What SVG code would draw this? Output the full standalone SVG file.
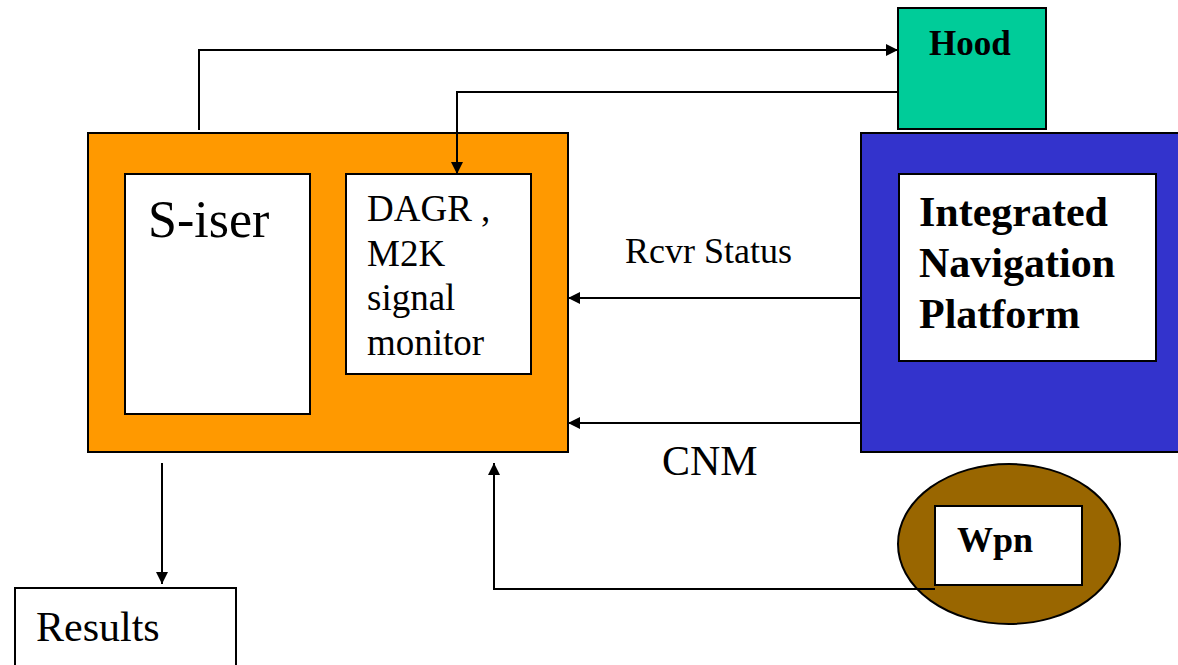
<svg xmlns="http://www.w3.org/2000/svg" width="1178" height="665" viewBox="0 0 1178 665">
  <style>
    .box { stroke: #000; stroke-width: 2; }
    .white { fill: #fff; }
    .t { font-family: "Liberation Serif", "Times New Roman", serif; fill: #000; }
    .b { font-weight: bold; }
    .wire { fill: none; stroke: #000; stroke-width: 2; }
  </style>
  <defs>
    <marker id="arrow" viewBox="0 0 12 12" refX="12" refY="6" markerWidth="12" markerHeight="12" markerUnits="userSpaceOnUse" orient="auto">
      <path d="M0,0 L12,6 L0,12 Z" fill="#000"/>
    </marker>
  </defs>
  <rect width="1178" height="665" fill="#fff"/>

  <!-- S-iser unit with DAGR monitor -->
  <g id="siser-unit">
    <rect class="box" x="88" y="133" width="480" height="319" fill="#FF9900"/>
    <g id="siser">
      <rect class="box white" x="125" y="174" width="185" height="240"/>
      <text class="t" x="148" y="237" font-size="52">S-iser</text>
    </g>
    <g id="dagr">
      <rect class="box white" x="346" y="174" width="185" height="200"/>
      <text class="t" x="367" y="221" font-size="37">DAGR ,</text>
      <text class="t" x="367" y="266" font-size="37">M2K</text>
      <text class="t" x="367" y="310" font-size="37">signal</text>
      <text class="t" x="367" y="355" font-size="37">monitor</text>
    </g>
  </g>

  <!-- Hood -->
  <g id="hood">
    <rect class="box" x="898" y="8" width="148" height="121" fill="#00CC99"/>
    <text class="t b" x="929" y="55" font-size="35">Hood</text>
  </g>

  <!-- Integrated Navigation Platform -->
  <g id="inp">
    <rect class="box" x="861" y="133" width="330" height="319" fill="#3333CC"/>
    <rect class="box white" x="899" y="174" width="257" height="187"/>
    <text class="t b" x="919" y="226" font-size="42">Integrated</text>
    <text class="t b" x="919" y="277" font-size="42">Navigation</text>
    <text class="t b" x="919" y="328" font-size="42">Platform</text>
  </g>

  <!-- Weapon -->
  <g id="wpn">
    <ellipse class="box" cx="1009" cy="544" rx="111" ry="80" fill="#996600"/>
    <rect class="box white" x="935" y="506" width="147" height="79"/>
    <text class="t b" x="957" y="552" font-size="36">Wpn</text>
  </g>

  <!-- Results -->
  <g id="results">
    <rect class="box white" x="15" y="588" width="221" height="90"/>
    <text class="t" x="36" y="641" font-size="42">Results</text>
  </g>

  <!-- Connectors -->
  <g id="connectors">
    <path class="wire" d="M199,130 V50 H898" marker-end="url(#arrow)"/>
    <path class="wire" d="M898,92 H457 V174" marker-end="url(#arrow)"/>
    <path class="wire" d="M861,298 H568" marker-end="url(#arrow)"/>
    <path class="wire" d="M861,423 H568" marker-end="url(#arrow)"/>
    <path class="wire" d="M162,463 V584" marker-end="url(#arrow)"/>
    <path class="wire" d="M935,589 H494 V463" marker-end="url(#arrow)"/>
  </g>

  <!-- Connector labels -->
  <text class="t" x="625" y="263" font-size="36">Rcvr Status</text>
  <text class="t" x="662" y="475" font-size="42">CNM</text>
</svg>
